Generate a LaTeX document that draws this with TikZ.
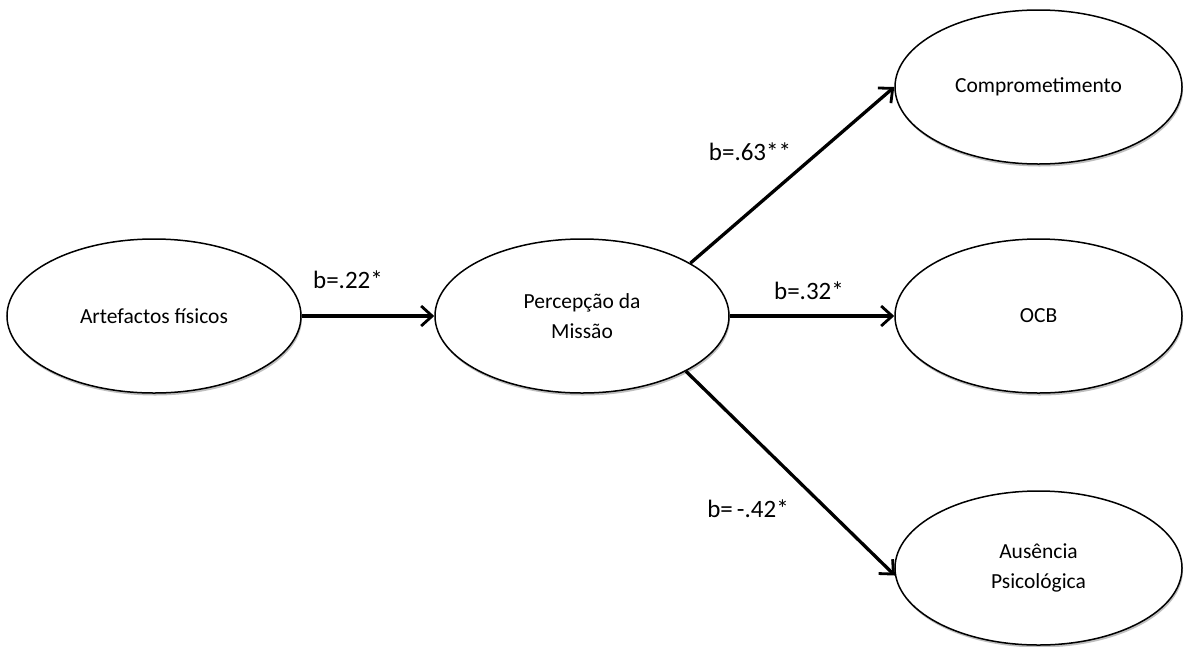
\documentclass[tikz,border=0pt]{standalone}
\usepackage{fontspec}
\setmainfont{Carlito}
\usetikzlibrary{shapes.geometric,arrows.meta,shadows}
\begin{document}
\begin{tikzpicture}[x=1pt,y=-1pt,
  var/.style={ellipse,draw=black,line width=1.5pt,fill=white,inner sep=0pt,
    minimum width=294pt,minimum height=154pt,align=center,
    font=\fontsize{21.5}{30}\selectfont,
    drop shadow={shadow xshift=1pt,shadow yshift=-2.5pt,opacity=0.25,fill=black}},
  path/.style={line width=3.3pt,-{Straight Barb[length=11pt,width=20pt,line width=2.8pt]}},
  coef/.style={font=\fontsize{25}{30}\selectfont,inner sep=0pt}]
\useasboundingbox (0,0) rectangle (1188,646);
\node[var] (art) at (154,316) {Artefactos físicos};
\node[var] (per) at (582,316) {Percepção da\\Missão};
\node[var,minimum width=287pt] (com) at (1038.5,87) {Comprometimento};
\node[var,minimum width=287pt] (ocb) at (1038.5,316) {OCB};
\node[var,minimum width=287pt] (aus) at (1038.5,568) {Ausência\\Psicológica};
\draw[path] (art) -- (per);
\draw[path] (per.26.7) -- (com.west);
\draw[path] (per) -- (ocb);
\draw[path] (per.-28.9) -- (aus.183.6);
\node[coef] (l1) at (348,280) {b=.22*};
\node[coef] (l2) at (750,152) {b=.63**};
\node[coef] (l3) at (809,291) {b=.32*};
\node[coef] (l4) at (748,509) {b=\,-.42*};
\end{tikzpicture}
\end{document}
